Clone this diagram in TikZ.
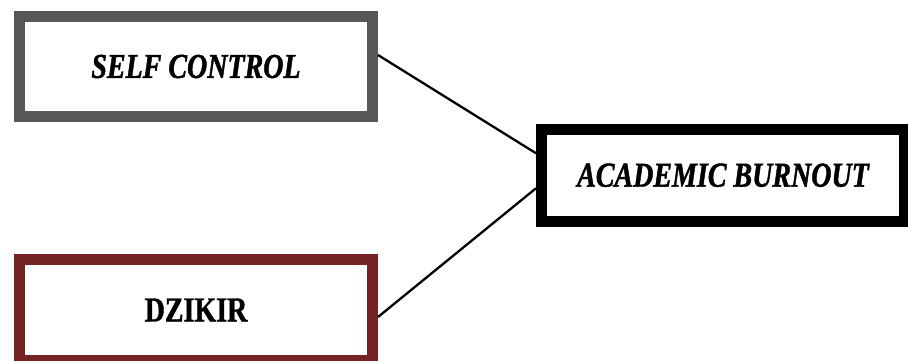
\documentclass[tikz,border=0pt]{standalone}
\usepackage{fontspec}
\newfontfamily\pf[FakeStretch=0.8,FakeBold=1.2]{Liberation Serif}
\definecolor{boxgray}{RGB}{88,88,88}
\definecolor{boxred}{RGB}{117,36,36}
\begin{document}
\begin{tikzpicture}[x=1pt,y=-1pt,
  box/.style={draw, line width=11pt, fill=white, inner sep=0pt,
    font=\pf\fontsize{35}{38}\selectfont\bfseries},
  link/.style={line width=2.3pt, black}]
\clip (0,0) rectangle (908,360);
\useasboundingbox (0,0) rectangle (908,360);
\fill[white] (0,0) rectangle (908,360);
\node[box, draw=boxgray, minimum width=353pt, minimum height=100pt] (sc) at (196,66.5) {\itshape SELF CONTROL};
\node[box, draw=boxred, minimum width=353pt, minimum height=100.5pt] (dz) at (196,310) {DZIKIR};
\node[box, draw=black, minimum width=363pt, minimum height=92.5pt] (ac) at (723,175.25) {\itshape ACADEMIC BURNOUT};
\draw[link] ([yshift=11.5pt]sc.east) -- ([yshift=22pt]ac.west);
\draw[link] ([yshift=-7pt]dz.east) -- ([yshift=-13pt]ac.west);
\end{tikzpicture}
\end{document}
